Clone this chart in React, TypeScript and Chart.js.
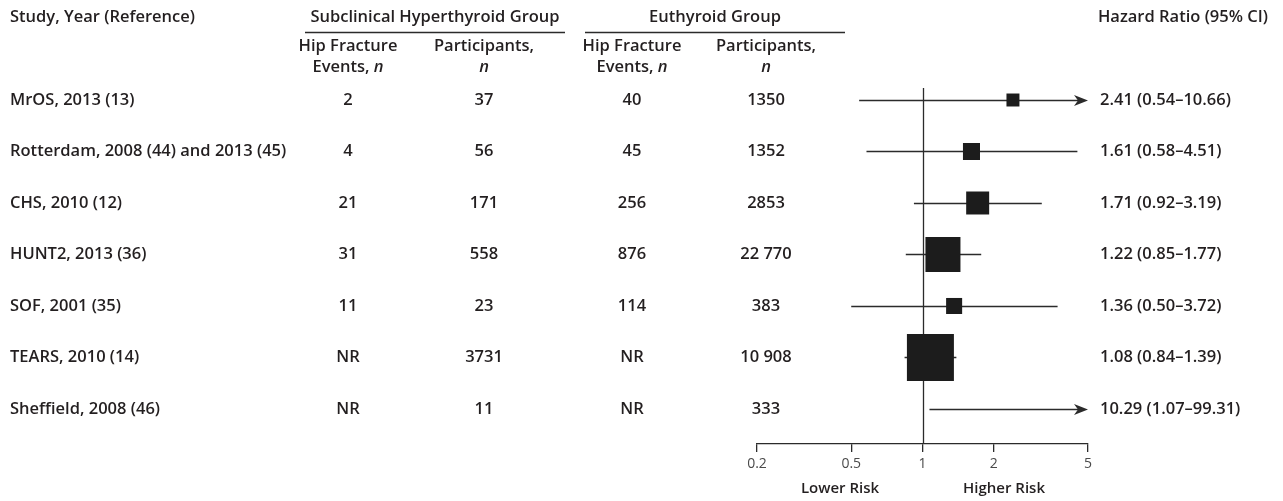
import React, { useEffect, useRef } from 'react';
import { Chart, registerables } from 'chart.js';

Chart.register(...registerables);

// ---------- data ----------
const studies = [
  'MrOS, 2013 (13)',
  'Rotterdam, 2008 (44) and 2013 (45)',
  'CHS, 2010 (12)',
  'HUNT2, 2013 (36)',
  'SOF, 2001 (35)',
  'TEARS, 2010 (14)',
  'Sheffield, 2008 (46)',
];
const subEvents = ['2', '4', '21', '31', '11', 'NR', 'NR'];
const subParticipants = ['37', '56', '171', '558', '23', '3731', '11'];
const euEvents = ['40', '45', '256', '876', '114', 'NR', 'NR'];
const euParticipants = ['1350', '1352', '2853', '22 770', '383', '10 908', '333'];
const hazardRatios = [2.41, 1.61, 1.71, 1.22, 1.36, 1.08, 10.29];
const ciLower = [0.54, 0.58, 0.92, 0.85, 0.5, 0.84, 1.07];
const ciUpper = [10.66, 4.51, 3.19, 1.77, 3.72, 1.39, 99.31];
const studyWeights = [3.6, 6.2, 11.3, 26.2, 5.5, 47.2, 0.8];
const xTicks = [0.2, 0.5, 1, 2, 5];
const xMin = 0.2;
const xMax = 5;

// ---------- style ----------
const W = 1283;
const H = 501;
const FONT = '"Open Sans", "Noto Sans", sans-serif';
const TEXT = '#231f20';
const LINE = '#2b2b2b';
const SQUARE_K = 6.84;
const FS = 16.5;

const fmt = (v: number) => v.toFixed(2);

const textPlugin = {
  id: 'forestText',
  beforeDatasetsDraw(chart: any) {
    const { ctx, chartArea } = chart;
    const xs = chart.scales.x;
    const ys = chart.scales.y;
    ctx.save();
    ctx.strokeStyle = LINE;
    ctx.fillStyle = LINE;
    ctx.lineWidth = 1.3;
    // reference line at HR = 1
    const x1 = Math.round(xs.getPixelForValue(1)) + 0.5;
    ctx.beginPath();
    ctx.moveTo(x1, chartArea.top);
    ctx.lineTo(x1, chartArea.bottom);
    ctx.stroke();
    // CIs
    hazardRatios.forEach((_, i) => {
      const y = Math.round(ys.getPixelForValue(i)) + 0.5;
      const lo = xs.getPixelForValue(Math.max(ciLower[i], xMin));
      const hi = xs.getPixelForValue(Math.min(ciUpper[i], xMax));
      const arrow = ciUpper[i] > xMax;
      ctx.beginPath();
      ctx.moveTo(lo, y);
      ctx.lineTo(arrow ? hi - 8 : hi, y);
      ctx.stroke();
      if (arrow) {
        ctx.beginPath();
        ctx.moveTo(hi, y);
        ctx.lineTo(hi - 14, y - 5.5);
        ctx.lineTo(hi - 10, y);
        ctx.lineTo(hi - 14, y + 5.5);
        ctx.closePath();
        ctx.fill();
      }
    });
    ctx.restore();
  },
  afterDraw(chart: any) {
    const { ctx } = chart;
    const ys = chart.scales.y;
    ctx.save();
    ctx.fillStyle = TEXT;
    ctx.textBaseline = 'middle';
    const bold = (s = FS) => `600 ${s}px ${FONT}`;
    const ital = (s = FS) => `italic 600 ${s}px ${FONT}`;

    const draw = (t: string, x: number, y: number, align: CanvasTextAlign = 'left', font = bold()) => {
      ctx.font = font;
      ctx.textAlign = align;
      ctx.fillText(t, x, y);
    };
    const drawN = (prefix: string, cx: number, y: number) => {
      ctx.font = bold();
      const w1 = ctx.measureText(prefix).width;
      ctx.font = ital();
      const w2 = ctx.measureText('n').width;
      const start = cx - (w1 + w2) / 2;
      draw(prefix, start, y, 'left', bold());
      draw('n', start + w1, y, 'left', ital());
    };

    const col1 = 348, col2 = 484, col3 = 632, col4 = 766;
    const hY = 17, s1 = 46, s2 = 67;
    draw('Study, Year (Reference)', 10, hY);
    draw('Subclinical Hyperthyroid Group', 435, hY, 'center');
    draw('Euthyroid Group', 715, hY, 'center');
    draw('Hazard Ratio (95% CI)', 1268, hY, 'right');

    ctx.strokeStyle = LINE;
    ctx.lineWidth = 1.3;
    ctx.beginPath();
    ctx.moveTo(305, 32.5);
    ctx.lineTo(565, 32.5);
    ctx.moveTo(585, 32.5);
    ctx.lineTo(845, 32.5);
    ctx.stroke();

    draw('Hip Fracture', col1, s1, 'center');
    drawN('Events, ', col1, s2);
    draw('Participants,', col2, s1, 'center');
    drawN('', col2, s2);
    draw('Hip Fracture', col3, s1, 'center');
    drawN('Events, ', col3, s2);
    draw('Participants,', col4, s1, 'center');
    drawN('', col4, s2);

    const hrX = 1100;
    studies.forEach((s, i) => {
      const y = ys.getPixelForValue(i);
      draw(s, 10, y);
      draw(subEvents[i], col1, y, 'center');
      draw(subParticipants[i], col2, y, 'center');
      draw(euEvents[i], col3, y, 'center');
      draw(euParticipants[i], col4, y, 'center');
      draw(`${fmt(hazardRatios[i])} (${fmt(ciLower[i])}–${fmt(ciUpper[i])})`, hrX, y);
    });

    const ly = 489;
    draw('Lower Risk', 840, ly, 'center', bold(15));
    draw('Higher Risk', 1004, ly, 'center', bold(15));
    ctx.restore();
  },
};

export default function App() {
  const ref = useRef<HTMLCanvasElement | null>(null);
  useEffect(() => {
    if (!ref.current) return;
    const chart = new Chart(ref.current, {
      type: 'scatter',
      data: {
        datasets: [
          {
            data: hazardRatios.map((hr, i) => ({ x: hr, y: i })),
            pointStyle: 'rect',
            pointRadius: hazardRatios.map((_, i) => (SQUARE_K * Math.sqrt(studyWeights[i])) / Math.SQRT2),
            backgroundColor: '#1c1c1c',
            borderColor: '#1c1c1c',
            borderWidth: 0,
          },
        ],
      },
      options: {
        responsive: false,
        animation: false,
        layout: { padding: { left: 757, right: W - 1088, top: 88, bottom: 0 } },
        plugins: { legend: { display: false }, tooltip: { enabled: false } },
        scales: {
          x: {
            type: 'logarithmic',
            min: xMin,
            max: xMax,
            position: 'bottom',
            afterBuildTicks: (scale: any) => {
              scale.ticks = xTicks.map((v) => ({ value: v }));
            },
            afterFit: (scale: any) => {
              scale.height = H - 444;
            },
            ticks: {
              callback: (v: any) => String(v),
              font: { family: FONT, size: 14 },
              color: '#4a4a4a',
              padding: 4,
              maxRotation: 0,
              autoSkip: false,
            },
            grid: { drawOnChartArea: false, drawTicks: true, tickLength: 8, color: LINE, lineWidth: 1.3 },
            border: { display: true, color: LINE, width: 1.3 },
          },
          y: {
            type: 'linear',
            min: -0.233,
            max: 6.68,
            reverse: true,
            display: false,
          },
        },
      },
      plugins: [textPlugin],
    } as any);
    return () => chart.destroy();
  }, []);
  return (
    <div style={{ position: 'fixed', left: 0, top: 0, width: W, height: H, background: '#fff' }}>
      <canvas ref={ref} width={W} height={H} style={{ display: 'block' }} />
    </div>
  );
}
